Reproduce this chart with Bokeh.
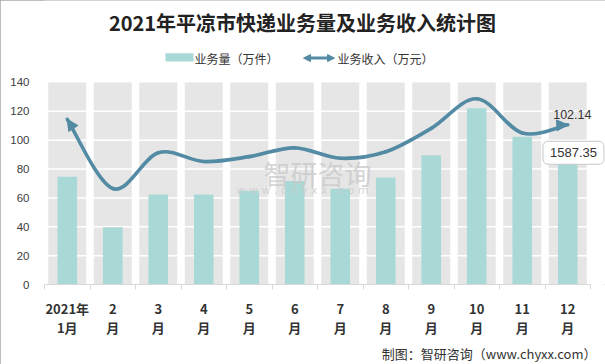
from bokeh.plotting import figure
from bokeh.models import (Range1d, FixedTicker, Label, Arrow, NormalHead, BoxAnnotation, Title)
from bokeh.embed import file_html
from bokeh.resources import INLINE

# ---------------- data ----------------
months = ["2021年\n1月", "2\n月", "3\n月", "4\n月", "5\n月", "6\n月",
          "7\n月", "8\n月", "9\n月", "10\n月", "11\n月", "12\n月"]
volume = [74.6, 39.6, 62.3, 62.3, 65.0, 71.8, 66.4, 74.1, 89.5, 122.2, 102.4, 98.0]   # 业务量（万件）
revenue = [114.5, 66.5, 91.3, 85.2, 88.6, 94.7, 87.5, 92.0, 108.2, 128.7, 105.0, 110.7]  # 业务收入（万元）
y_ticks = [0, 20, 40, 60, 80, 100, 120, 140]
last_label = "102.14"
total_label = "1587.35"

title_text = "2021年平凉市快递业务量及业务收入统计图"
legend_bar = "业务量（万件）"
legend_line = "业务收入（万元）"
source_text = "制图：智研咨询（www.chyxx.com）"

# ---------------- style ----------------
BAR = "#a9d9d6"
BAND = "#e6e6e6"
LINE = "#538ba4"
TXT = "#333333"
CJK = "Noto Sans CJK SC"

n = len(months)
xs = list(range(n))

p = figure(width=605, height=364, output_backend="svg", toolbar_location=None,
           x_range=Range1d(-0.5, n - 0.5 + 15 / 45.5),
           y_range=Range1d(y_ticks[0], y_ticks[-1] * 291 / 207),
           min_border_left=44, min_border_right=0, min_border_top=0, min_border_bottom=73)
p.outline_line_color = None
p.xgrid.grid_line_color = None
p.ygrid.grid_line_color = None
p.styles = {"outline": "1px solid #a8a8a8", "outline-offset": "-1px"}

# gray category bands
p.vbar(x=xs, top=[y_ticks[-1]] * n, bottom=y_ticks[0], width=0.835,
       fill_color=BAND, line_color=None)
# white gridlines across the bands
p.segment(x0=[-0.5] * (len(y_ticks) - 2), x1=[n - 0.5] * (len(y_ticks) - 2),
          y0=y_ticks[1:-1], y1=y_ticks[1:-1], line_color="white", line_width=1.5)
# bars
p.vbar(x=xs, top=volume, width=0.43, fill_color=BAR, line_color=None)

# smoothed revenue line (cubic bezier through the data points)
x0s, y0s, x1s, y1s, cx0, cy0, cx1, cy1 = [], [], [], [], [], [], [], []
for i in range(n - 1):
    a, b = xs[i], xs[i + 1]
    ya, yb = revenue[i], revenue[i + 1]
    pa = max(i - 1, 0)
    nb = min(i + 2, n - 1)
    x0s.append(a); y0s.append(ya); x1s.append(b); y1s.append(yb)
    cx0.append(a + (b - xs[pa]) / 6.0); cy0.append(ya + (yb - revenue[pa]) / 6.0)
    cx1.append(b - (xs[nb] - a) / 6.0); cy1.append(yb - (revenue[nb] - ya) / 6.0)
p.bezier(x0=x0s, y0=y0s, x1=x1s, y1=y1s, cx0=cx0, cy0=cy0, cx1=cx1, cy1=cy1,
         line_color=LINE, line_width=3.6, line_cap="round")

# arrow heads at both ends
def head():
    return NormalHead(size=11, fill_color=LINE, line_color=LINE, line_width=1)
p.add_layout(Arrow(end=head(), line_alpha=0,
                   x_start=xs[0] + (xs[1] - xs[0]) * 0.15, y_start=revenue[0] + (revenue[1] - revenue[0]) * 0.15,
                   x_end=xs[0], y_end=revenue[0]))
p.add_layout(Arrow(end=head(), line_alpha=0,
                   x_start=xs[-1] - (xs[-1] - xs[-2]) * 0.3, y_start=revenue[-1] - (revenue[-1] - revenue[-2]) * 0.1,
                   x_end=xs[-1], y_end=revenue[-1]))

# axes
xa = p.xaxis[0]
xa.ticker = FixedTicker(ticks=xs, minor_ticks=[x - 0.5 for x in range(n + 1)])
xa.bounds = (-0.5, n - 0.5)
xa.major_label_overrides = {i: m for i, m in enumerate(months)}
xa.major_tick_out = 0
xa.major_tick_in = 0
xa.minor_tick_out = 5
xa.minor_tick_in = 0
xa.minor_tick_line_color = "#d9d9d9"
xa.axis_line_color = "#d9d9d9"
xa.major_label_text_font = CJK
xa.major_label_text_font_style = "bold"
xa.major_label_text_font_size = "13px"
xa.major_label_text_color = TXT
xa.major_label_text_line_height = 1.03
xa.major_label_standoff = 9

ya = p.yaxis[0]
ya.ticker = FixedTicker(ticks=y_ticks)
ya.axis_line_color = None
ya.major_tick_line_color = None
ya.minor_tick_line_color = None
ya.major_label_text_font = "Liberation Sans"
ya.major_label_text_font_size = "11.5px"
ya.major_label_text_color = "#404040"
ya.major_label_standoff = 9

# watermark
p.add_layout(Label(x=5.5, y=77, text="智研咨询", text_font=CJK, text_font_size="27px",
                   text_color="#c8c8c8", text_alpha=0.75, text_align="center", text_baseline="middle"))
p.add_layout(Label(x=5.17, y=65.0, text="w w w . c h y x x . c o m", text_font="DejaVu Sans",
                   text_font_size="11px", text_color="#c8c8c8", text_alpha=0.75,
                   text_align="center", text_baseline="middle"))

# annotations near the last point
p.add_layout(Label(x=11.1, y=117.7, text=last_label, text_font="Liberation Sans", text_font_size="12.5px",
                   text_color=TXT, text_align="center", text_baseline="middle"))
p.add_layout(Label(x=11.126, y=91.3, text=total_label, text_font="Liberation Sans", text_font_size="13px",
                   text_color=TXT, text_align="center", text_baseline="middle",
                   background_fill_color="white", border_line_color="#c8c8c8",
                   padding=7, border_radius=5))

# title
p.add_layout(Label(x=5.17, y=181.3, text=title_text, text_font=CJK, text_font_size="20px",
                   text_font_style="bold", text_color="#222222",
                   text_align="center", text_baseline="middle"))

# legend
p.add_layout(BoxAnnotation(left=2.159, right=2.775, bottom=154.6, top=160.3,
                           fill_color=BAR, fill_alpha=1, line_color=None))
p.add_layout(Label(x=2.797, y=156.9, text=legend_bar, text_font=CJK, text_font_size="12px",
                   text_color=TXT, text_align="left", text_baseline="middle"))
p.add_layout(Arrow(start=NormalHead(size=7, fill_color=LINE, line_color=LINE),
                   end=NormalHead(size=7, fill_color=LINE, line_color=LINE),
                   x_start=5.192, y_start=156.9, x_end=5.874, y_end=156.9,
                   line_color=LINE, line_width=3))
p.add_layout(Label(x=5.94, y=156.9, text=legend_line, text_font=CJK, text_font_size="12px",
                   text_color=TXT, text_align="left", text_baseline="middle"))

# source note
p.add_layout(Title(text=source_text, align="right", offset=9, standoff=3,
                   text_font=CJK, text_font_size="13px", text_font_style="normal",
                   text_color=TXT), "below")

open("out.html", "w").write(file_html(p, INLINE))
